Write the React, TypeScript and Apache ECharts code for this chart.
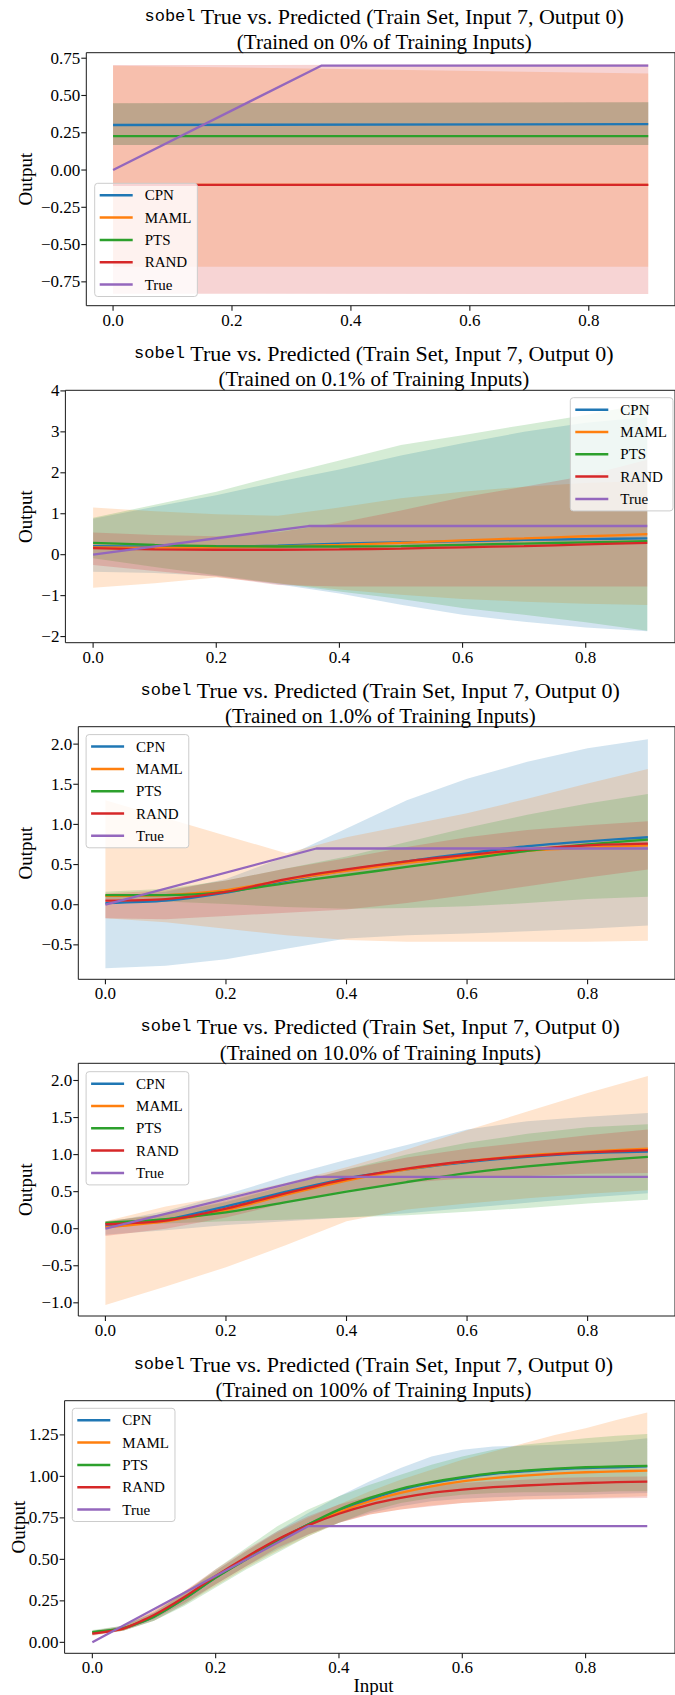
import React, { useEffect, useRef } from "react";
import * as echarts from "echarts";

// ---------- data ----------
const METHODS = ["CPN", "MAML", "PTS", "RAND"];
const LEGEND_NAMES = ["CPN", "MAML", "PTS", "RAND", "True"];
const TITLE_PERCENTS = ["0%", "0.1%", "1.0%", "10.0%", "100%"];

const TRUE_X = [0, 0.35, 0.9];
const TRUE_Y = [0, 0.7, 0.7];

// Panel 1 (0%)
const X1 = [0, 0.9];
const CPN1 = [0.302, 0.308];
const MAML1 = [-0.1, -0.1];
const PTS1 = [0.228, 0.228];
const RAND1 = [-0.1, -0.1];
const CPN1_LO = [0.168, 0.168];
const CPN1_HI = [0.448, 0.455];
const MAML1_LO = [-0.648, -0.648];
const MAML1_HI = [0.7, 0.648];
const PTS1_LO = [0.168, 0.168];
const PTS1_HI = [0.448, 0.455];
const RAND1_LO = [-0.83, -0.832];
const RAND1_HI = [0.704, 0.709];

// Panel 2 (0.1%)
const X2 = [0, 0.1, 0.2, 0.3, 0.4, 0.5, 0.6, 0.7, 0.8, 0.9];
const CPN2 = [0.21, 0.2, 0.2, 0.22, 0.27, 0.3, 0.33, 0.36, 0.38, 0.4];
const MAML2 = [0.18, 0.17, 0.18, 0.2, 0.24, 0.29, 0.35, 0.4, 0.45, 0.5];
const PTS2 = [0.29, 0.24, 0.21, 0.2, 0.2, 0.21, 0.24, 0.27, 0.3, 0.33];
const RAND2 = [0.16, 0.13, 0.12, 0.12, 0.13, 0.15, 0.18, 0.21, 0.25, 0.29];
const CPN2_LO = [-0.42, -0.45, -0.52, -0.72, -0.95, -1.22, -1.47, -1.64, -1.78, -1.87];
const CPN2_HI = [0.88, 1.17, 1.45, 1.78, 2.08, 2.42, 2.72, 3.0, 3.22, 3.36];
const MAML2_LO = [-0.81, -0.7, -0.56, -0.7, -0.85, -0.98, -1.08, -1.15, -1.2, -1.23];
const MAML2_HI = [1.15, 1.06, 0.99, 0.95, 1.15, 1.38, 1.54, 1.66, 1.75, 1.8];
const PTS2_LO = [-0.09, -0.3, -0.5, -0.7, -0.9, -1.08, -1.3, -1.47, -1.65, -1.86];
const PTS2_HI = [0.9, 1.22, 1.54, 1.93, 2.3, 2.68, 2.92, 3.17, 3.41, 3.7];
const RAND2_LO = [-0.25, -0.4, -0.54, -0.74, -0.78, -0.78, -0.78, -0.78, -0.78, -0.78];
const RAND2_HI = [0.54, 0.48, 0.45, 0.55, 0.78, 1.08, 1.4, 1.66, 1.93, 2.32];

// Panel 3 (1.0%)
const X3 = [0, 0.1, 0.2, 0.3, 0.4, 0.5, 0.6, 0.7, 0.8, 0.9];
const CPN3 = [0.02, 0.05, 0.15, 0.3, 0.43, 0.54, 0.64, 0.73, 0.79, 0.84];
const MAML3 = [0.11, 0.12, 0.18, 0.31, 0.42, 0.52, 0.6, 0.67, 0.71, 0.74];
const PTS3 = [0.12, 0.12, 0.16, 0.27, 0.37, 0.47, 0.57, 0.67, 0.75, 0.81];
const RAND3 = [0.05, 0.07, 0.16, 0.32, 0.44, 0.54, 0.62, 0.69, 0.74, 0.76];
const CPN3_LO = [-0.79, -0.76, -0.68, -0.55, -0.42, -0.38, -0.36, -0.33, -0.3, -0.26];
const CPN3_HI = [0.1, 0.16, 0.32, 0.6, 0.95, 1.3, 1.57, 1.78, 1.95, 2.06];
const MAML3_LO = [-0.17, -0.22, -0.3, -0.38, -0.44, -0.46, -0.46, -0.46, -0.46, -0.45];
const MAML3_HI = [1.3, 1.08, 0.86, 0.64, 0.84, 0.99, 1.14, 1.32, 1.51, 1.69];
const PTS3_LO = [0.07, 0.04, 0.01, -0.03, -0.05, -0.04, -0.02, 0.02, 0.07, 0.1];
const PTS3_HI = [0.16, 0.2, 0.3, 0.45, 0.6, 0.78, 0.96, 1.12, 1.26, 1.38];
const RAND3_LO = [-0.17, -0.18, -0.14, -0.1, -0.06, 0.02, 0.12, 0.23, 0.34, 0.44];
const RAND3_HI = [0.14, 0.18, 0.3, 0.45, 0.58, 0.72, 0.84, 0.93, 0.99, 1.04];

// Panel 4 (10.0%)
const X4 = [0, 0.1, 0.2, 0.3, 0.4, 0.5, 0.6, 0.7, 0.8, 0.9];
const CPN4 = [0.04, 0.12, 0.3, 0.5, 0.68, 0.8, 0.9, 0.97, 1.02, 1.04];
const MAML4 = [0.02, 0.1, 0.25, 0.46, 0.65, 0.8, 0.91, 0.99, 1.04, 1.08];
const PTS4 = [0.08, 0.13, 0.22, 0.36, 0.5, 0.63, 0.75, 0.84, 0.91, 0.97];
const RAND4 = [0.06, 0.11, 0.27, 0.48, 0.67, 0.81, 0.91, 0.98, 1.03, 1.06];
const CPN4_LO = [-0.08, -0.02, 0.05, 0.1, 0.15, 0.21, 0.28, 0.35, 0.42, 0.48];
const CPN4_HI = [0.08, 0.24, 0.46, 0.71, 0.93, 1.13, 1.34, 1.45, 1.51, 1.56];
const MAML4_LO = [-1.03, -0.78, -0.52, -0.22, 0.1, 0.26, 0.34, 0.41, 0.47, 0.52];
const MAML4_HI = [0.1, 0.3, 0.44, 0.62, 0.83, 1.07, 1.33, 1.58, 1.83, 2.06];
const PTS4_LO = [0.05, 0.07, 0.1, 0.12, 0.15, 0.18, 0.23, 0.28, 0.34, 0.39];
const PTS4_HI = [0.1, 0.2, 0.36, 0.58, 0.8, 1.0, 1.16, 1.28, 1.37, 1.41];
const RAND4_LO = [-0.1, 0.0, 0.15, 0.35, 0.52, 0.62, 0.68, 0.71, 0.74, 0.75];
const RAND4_HI = [0.1, 0.2, 0.38, 0.6, 0.8, 0.96, 1.08, 1.17, 1.26, 1.34];

// Panel 5 (100%)
const X5 = [0, 0.05, 0.1, 0.15, 0.2, 0.25, 0.3, 0.35, 0.4, 0.45, 0.5, 0.55, 0.6, 0.65, 0.7, 0.75, 0.8, 0.85, 0.9];
const CPN5 = [0.058, 0.084, 0.155, 0.265, 0.39, 0.505, 0.615, 0.71, 0.79, 0.86, 0.92, 0.96, 0.99, 1.015, 1.03, 1.043, 1.05, 1.055, 1.06];
const MAML5 = [0.055, 0.083, 0.16, 0.27, 0.395, 0.51, 0.615, 0.705, 0.785, 0.85, 0.9, 0.94, 0.97, 0.99, 1.005, 1.016, 1.025, 1.03, 1.035];
const PTS5 = [0.062, 0.085, 0.155, 0.265, 0.39, 0.5, 0.61, 0.71, 0.8, 0.87, 0.925, 0.965, 0.995, 1.02, 1.035, 1.047, 1.055, 1.06, 1.063];
const RAND5 = [0.052, 0.083, 0.165, 0.275, 0.4, 0.515, 0.62, 0.705, 0.775, 0.83, 0.87, 0.9, 0.92, 0.935, 0.945, 0.953, 0.96, 0.965, 0.968];
const CPN5_LO = [0.045, 0.07, 0.13, 0.23, 0.35, 0.46, 0.56, 0.65, 0.72, 0.78, 0.82, 0.85, 0.865, 0.875, 0.88, 0.885, 0.89, 0.895, 0.9];
const CPN5_HI = [0.07, 0.1, 0.18, 0.3, 0.43, 0.55, 0.67, 0.78, 0.88, 0.97, 1.05, 1.12, 1.16, 1.18, 1.185, 1.19, 1.2, 1.21, 1.23];
const MAML5_LO = [0.045, 0.07, 0.13, 0.23, 0.34, 0.45, 0.55, 0.64, 0.72, 0.77, 0.8, 0.825, 0.84, 0.85, 0.86, 0.865, 0.87, 0.875, 0.88];
const MAML5_HI = [0.07, 0.1, 0.19, 0.31, 0.43, 0.55, 0.66, 0.75, 0.83, 0.91, 0.98, 1.04, 1.1, 1.15, 1.2, 1.25, 1.29, 1.34, 1.385];
const PTS5_LO = [0.05, 0.07, 0.13, 0.22, 0.33, 0.44, 0.54, 0.64, 0.72, 0.79, 0.84, 0.87, 0.89, 0.9, 0.905, 0.905, 0.905, 0.91, 0.91];
const PTS5_HI = [0.075, 0.1, 0.18, 0.3, 0.44, 0.57, 0.7, 0.8, 0.88, 0.95, 1.01, 1.07, 1.12, 1.16, 1.19, 1.21, 1.23, 1.245, 1.256];
const RAND5_LO = [0.04, 0.07, 0.14, 0.24, 0.35, 0.46, 0.57, 0.65, 0.72, 0.77, 0.8, 0.82, 0.84, 0.85, 0.86, 0.862, 0.865, 0.868, 0.87];
const RAND5_HI = [0.065, 0.095, 0.19, 0.31, 0.44, 0.56, 0.67, 0.76, 0.83, 0.88, 0.92, 0.945, 0.96, 0.97, 0.98, 0.99, 0.995, 0.998, 1.0];

// tick labels
const X_TICKS = [0, 0.2, 0.4, 0.6, 0.8];
const Y_TICKS_1 = [-0.75, -0.5, -0.25, 0, 0.25, 0.5, 0.75];
const Y_TICKS_2 = [-2, -1, 0, 1, 2, 3, 4];
const Y_TICKS_3 = [-0.5, 0, 0.5, 1, 1.5, 2];
const Y_TICKS_4 = [-1, -0.5, 0, 0.5, 1, 1.5, 2];
const Y_TICKS_5 = [0, 0.25, 0.5, 0.75, 1, 1.25];

// ---------- styles / layout ----------
const COLORS: Record<string, string> = {
  CPN: "#1f77b4",
  MAML: "#ff7f0e",
  PTS: "#2ca02c",
  RAND: "#d62728",
  True: "#9467bd",
};
const SERIF = "Liberation Serif";
const MONO = "Liberation Mono";
const SPINE = "#1a1a1a";
const TICK_LEN = 5;

const PANEL_DATA = [
  { x: X1, mean: [CPN1, MAML1, PTS1, RAND1], lo: [CPN1_LO, MAML1_LO, PTS1_LO, RAND1_LO], hi: [CPN1_HI, MAML1_HI, PTS1_HI, RAND1_HI], yTicks: Y_TICKS_1, dec: 2 },
  { x: X2, mean: [CPN2, MAML2, PTS2, RAND2], lo: [CPN2_LO, MAML2_LO, PTS2_LO, RAND2_LO], hi: [CPN2_HI, MAML2_HI, PTS2_HI, RAND2_HI], yTicks: Y_TICKS_2, dec: 0 },
  { x: X3, mean: [CPN3, MAML3, PTS3, RAND3], lo: [CPN3_LO, MAML3_LO, PTS3_LO, RAND3_LO], hi: [CPN3_HI, MAML3_HI, PTS3_HI, RAND3_HI], yTicks: Y_TICKS_3, dec: 1 },
  { x: X4, mean: [CPN4, MAML4, PTS4, RAND4], lo: [CPN4_LO, MAML4_LO, PTS4_LO, RAND4_LO], hi: [CPN4_HI, MAML4_HI, PTS4_HI, RAND4_HI], yTicks: Y_TICKS_4, dec: 1 },
  { x: X5, mean: [CPN5, MAML5, PTS5, RAND5], lo: [CPN5_LO, MAML5_LO, PTS5_LO, RAND5_LO], hi: [CPN5_HI, MAML5_HI, PTS5_HI, RAND5_HI], yTicks: Y_TICKS_5, dec: 2 },
];

const LAYOUT = [
  { left: 86.3, top: 52.7, bottom: 305.7, yMin: -0.91, yMax: 0.787, t1: 16, t2: 42, ylx: 25.5, legL: 94.7, legT: 183.3, smooth: 0 },
  { left: 65.4, top: 390.3, bottom: 642.7, yMin: -2.15, yMax: 4.015, t1: 353.3, t2: 379.3, ylx: 25, legL: 570.3, legT: 397.7, smooth: 0.2 },
  { left: 78.3, top: 726.7, bottom: 979.3, yMin: -0.929, yMax: 2.217, t1: 690, t2: 715.7, ylx: 25, legL: 86.1, legT: 734.6, smooth: 0.25 },
  { left: 78.3, top: 1063.3, bottom: 1316, yMin: -1.178, yMax: 2.232, t1: 1026.7, t2: 1052.7, ylx: 25, legL: 86.1, legT: 1071.7, smooth: 0.25 },
  { left: 64.6, top: 1400.7, bottom: 1653.3, yMin: -0.066, yMax: 1.456, t1: 1364, t2: 1390, ylx: 18, legL: 72.3, legT: 1408.3, smooth: 0.2 },
];
const AXES_RIGHT = 682.3;
const X_MIN = -0.045;
const X_MAX = 0.945;

function rgba(hex: string, a: number) {
  const r = parseInt(hex.slice(1, 3), 16);
  const g = parseInt(hex.slice(3, 5), 16);
  const b = parseInt(hex.slice(5, 7), 16);
  return `rgba(${r},${g},${b},${a})`;
}

function fmt(v: number, d: number) {
  const s = Math.abs(v).toFixed(d);
  return (v < -1e-9 ? "\u2212" : "") + s;
}

function buildOption() {
  const grid: any[] = [];
  const xAxis: any[] = [];
  const yAxis: any[] = [];
  const series: any[] = [];
  const legend: any[] = [];
  const graphic: any[] = [];

  PANEL_DATA.forEach((pd, i) => {
    const L = LAYOUT[i];
    grid.push({
      left: L.left,
      top: L.top,
      width: AXES_RIGHT - L.left,
      height: L.bottom - L.top,
      show: true,
      borderColor: SPINE,
      borderWidth: 1,
      backgroundColor: "transparent",
    });
    xAxis.push({
      type: "value",
      gridIndex: i,
      position: "bottom",
      min: X_MIN,
      max: X_MAX,
      axisLine: { show: false, onZero: false },
      splitLine: { show: false },
      axisTick: { show: false },
      axisLabel: {
        customValues: X_TICKS,
        formatter: (v: number) => fmt(v, 1),
        fontFamily: SERIF,
        fontSize: 17,
        color: "#000",
        margin: 6,
      },
    });
    yAxis.push({
      type: "value",
      gridIndex: i,
      position: "left",
      min: L.yMin,
      max: L.yMax,
      axisLine: { show: false, onZero: false },
      splitLine: { show: false },
      axisTick: { show: false },
      axisLabel: {
        customValues: pd.yTicks,
        formatter: (v: number) => fmt(v, pd.dec),
        fontFamily: SERIF,
        fontSize: 17,
        color: "#000",
        margin: 6,
      },
    });

    // bands
    METHODS.forEach((m, k) => {
      const xs = pd.x;
      const lo = pd.lo[k];
      const hi = pd.hi[k];
      const fill = rgba(COLORS[m], 0.2);
      series.push({
        type: "custom",
        xAxisIndex: i,
        yAxisIndex: i,
        silent: true,
        z: 1,
        data: xs.map((x, j) => [x, lo[j], hi[j]]),
        encode: { x: 0, y: [1, 2] },
        renderItem: (params: any, api: any) => {
          if (params.dataIndex !== 0) return null;
          const top = xs.map((x, j) => api.coord([x, hi[j]]));
          const bot = xs.map((x, j) => api.coord([x, lo[j]])).reverse();
          return {
            type: "polygon",
            shape: { points: top.concat(bot) },
            style: { fill, stroke: "none" },
          };
        },
      });
    });
    // mean lines
    METHODS.forEach((m, k) => {
      series.push({
        type: "line",
        name: m,
        xAxisIndex: i,
        yAxisIndex: i,
        z: 3,
        symbol: "none",
        smooth: L.smooth,
        color: COLORS[m],
        lineStyle: { color: COLORS[m], width: 2.3 },
        data: pd.x.map((x, j) => [x, pd.mean[k][j]]),
      });
    });
    series.push({
      type: "line",
      name: "True",
      xAxisIndex: i,
      yAxisIndex: i,
      z: 4,
      symbol: "none",
      color: COLORS.True,
      lineStyle: { color: COLORS.True, width: 2.3 },
      data: TRUE_X.map((x, j) => [x, TRUE_Y[j]]),
    });

    legend.push({
      orient: "vertical",
      left: L.legL,
      top: L.legT,
      data: LEGEND_NAMES.map((n) => ({ name: n, icon: "rect" })),
      itemWidth: 33,
      itemHeight: 2.5,
      itemGap: 4.3,
      selectedMode: false,
      textStyle: { fontFamily: SERIF, fontSize: 15, fontWeight: "normal", color: "#000", lineHeight: 18, padding: [0, 0, 0, 7] },
      backgroundColor: "rgba(255,255,255,0.8)",
      borderColor: "#cccccc",
      borderWidth: 1,
      borderRadius: 3,
      padding: [3, 6, 3, 5],
    });

    const cx = (L.left + AXES_RIGHT) / 2;
    graphic.push({
      type: "text",
      x: cx,
      y: L.t1,
      silent: true,
      style: {
        text: "{m|sobel}{s| True vs. Predicted (Train Set, Input 7, Output 0)}",
        align: "center",
        verticalAlign: "middle",
        textAlign: "center",
        textVerticalAlign: "middle",
        rich: {
          m: { fontFamily: MONO, fontSize: 17, fill: "#000", lineHeight: 24 },
          s: { fontFamily: SERIF, fontSize: 22, fill: "#000", lineHeight: 24 },
        },
      },
    });
    graphic.push({
      type: "text",
      x: cx,
      y: L.t2,
      silent: true,
      style: {
        text: `(Trained on ${TITLE_PERCENTS[i]} of Training Inputs)`,
        align: "center",
        verticalAlign: "middle",
        textAlign: "center",
        textVerticalAlign: "middle",
        fontFamily: SERIF,
        fontSize: 21,
        fill: "#000",
      },
    });
    graphic.push({
      type: "text",
      x: L.ylx,
      y: (L.top + L.bottom) / 2,
      rotation: Math.PI / 2,
      silent: true,
      style: {
        text: "Output",
        align: "center",
        verticalAlign: "middle",
        textAlign: "center",
        textVerticalAlign: "middle",
        fontFamily: SERIF,
        fontSize: 19,
        fill: "#000",
      },
    });
  });

  graphic.push({
    type: "text",
    x: (LAYOUT[4].left + AXES_RIGHT) / 2,
    y: 1685,
    silent: true,
    style: {
      text: "Input",
      align: "center",
      verticalAlign: "middle",
      textAlign: "center",
      textVerticalAlign: "middle",
      fontFamily: SERIF,
      fontSize: 19,
      fill: "#000",
    },
  });

  return {
    animation: false,
    backgroundColor: "#fff",
    textStyle: { fontFamily: SERIF },
    grid,
    xAxis,
    yAxis,
    legend,
    series,
    graphic,
  };
}

// outward tick marks, positioned through the chart's own axis scales
function buildTicks(chart: any) {
  const out: any[] = [];
  PANEL_DATA.forEach((pd, i) => {
    const L = LAYOUT[i];
    X_TICKS.forEach((v) => {
      const p = chart.convertToPixel({ gridIndex: i }, [v, L.yMin]);
      if (!p) return;
      out.push({
        type: "line",
        silent: true,
        z: 100,
        shape: { x1: p[0], y1: p[1], x2: p[0], y2: p[1] + TICK_LEN },
        style: { stroke: SPINE, lineWidth: 1.1 },
      });
    });
    pd.yTicks.forEach((v) => {
      const p = chart.convertToPixel({ gridIndex: i }, [X_MIN, v]);
      if (!p) return;
      out.push({
        type: "line",
        silent: true,
        z: 100,
        shape: { x1: p[0], y1: p[1], x2: p[0] - TICK_LEN, y2: p[1] },
        style: { stroke: SPINE, lineWidth: 1.1 },
      });
    });
  });
  return out;
}

export default function App() {
  const ref = useRef<HTMLDivElement>(null);
  useEffect(() => {
    if (!ref.current) return;
    const chart = echarts.init(ref.current, null, { renderer: "svg" });
    const option: any = buildOption();
    chart.setOption(option);
    const ticks = buildTicks(chart);
    chart.setOption({ graphic: option.graphic.concat(ticks) });
    return () => chart.dispose();
  }, []);
  return (
    <div
      ref={ref}
      style={{ position: "absolute", left: 0, top: 0, width: 675, height: 1695, background: "#fff" }}
    />
  );
}
